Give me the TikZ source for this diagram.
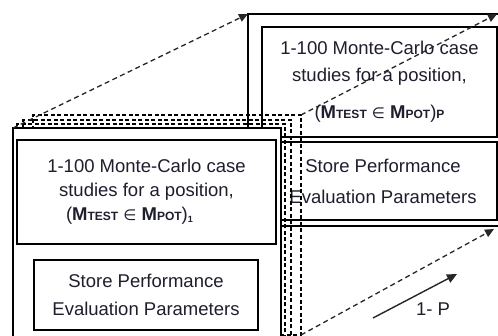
\documentclass[tikz,border=0pt]{standalone}
\usepackage{fontspec}
\setmainfont{Liberation Sans}
\newfontfamily\symfont{DejaVu Sans}
\usetikzlibrary{arrows.meta}
\definecolor{txt}{RGB}{30,30,45}
\newcommand{\smcap}[1]{{\fontsize{12}{12}\selectfont\bfseries #1}}
\newcommand{\elm}{{\symfont\fontsize{15}{15}\selectfont ∈}}
\newcommand{\mtest}[1]{(\textbf{M}\smcap{TEST} \elm{} \textbf{M}\smcap{POT})#1}
\begin{document}
\begin{tikzpicture}[x=1pt,y=-1pt,
  frame/.style={draw=black, line width=1.3pt, fill=white, rectangle, inner sep=0pt, outer sep=0pt, anchor=north west},
  ghost/.style={draw=black, line width=1.2pt, dash pattern=on 4pt off 2.5pt, rectangle, inner sep=0pt, outer sep=0pt, anchor=north west},
  label/.style={text=txt, align=center, font=\fontsize{18.5}{24}\selectfont},
  proj/.style={draw=black!85, line width=1.3pt, dash pattern=on 5pt off 3.5pt, -{Triangle[length=9pt,width=8pt]}},
  solidarrow/.style={draw=black!85, line width=1.4pt, -{Triangle[length=10pt,width=9pt]}}
]
\useasboundingbox (0,0) rectangle (498,336);
\clip (0,0) rectangle (498,336);
% back box (position P)
\node[frame, minimum width=252pt, minimum height=212pt] (back) at (248,14) {};
\node[frame, minimum width=235pt, minimum height=110pt, label] (backtop) at (262,27)
  {1-100 Monte-Carlo case\\[3pt] studies for a position,\\[13pt] \mtest{\smcap{P}}};
\node[frame, minimum width=228pt, minimum height=78pt, label] (backstore) at (269,142)
  {Store Performance\\[7pt] Evaluation Parameters};
% intermediate positions
\node[ghost, minimum width=268pt, minimum height=220pt] (g3) at (33,115) {};
\node[ghost, minimum width=268pt, minimum height=220pt] (g2) at (23,120) {};
\node[ghost, minimum width=268pt, minimum height=220pt] (g1) at (17,124) {};
% front box (position 1)
\node[frame, minimum width=268pt, minimum height=215pt] (front) at (13,128) {};
\node[frame, minimum width=259pt, minimum height=104pt, label] (fronttop) at (17,140)
  {1-100 Monte-Carlo case\\ studies for a position,\\ \mtest{\raisebox{-2pt}{\fontsize{9}{9}\selectfont\bfseries 1}}\hspace*{34pt}};
\node[frame, minimum width=224pt, minimum height=70pt, label] (frontstore) at (34,260)
  {Store Performance\\[4pt] Evaluation Parameters};
% projection lines
\coordinate (trtip) at (497,14);
\coordinate (brtip) at (494,229);
\draw[proj] (front.north west) -- (back.north west);
\draw[proj] (g3.north east) -- (trtip);
\draw[proj] (g3.south east) -- (brtip);
% direction arrow
\coordinate (pa) at (373,318);
\coordinate (pb) at (457,274);
\draw[solidarrow] (pa) -- (pb);
\node[label] (pl) at (433,309) {1- P};
\end{tikzpicture}
\end{document}
